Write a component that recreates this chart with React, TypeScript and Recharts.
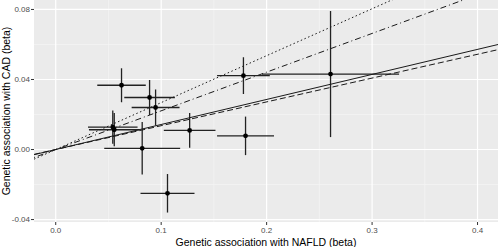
import {
  ComposedChart,
  Scatter,
  XAxis,
  YAxis,
  CartesianGrid,
  ErrorBar,
  ReferenceLine,
} from "recharts";

// SNP effects: association with NAFLD (x) and with CAD (y), with their errors
const snpX = [0.0624, 0.089, 0.0947, 0.0541, 0.0555, 0.082, 0.127, 0.106, 0.178, 0.18, 0.2606];
const snpY = [0.0367, 0.0297, 0.024, 0.0128, 0.0113, 0.0007, 0.0109, -0.025, 0.0422, 0.0078, 0.0431];
const snpXErr = [0.023, 0.024, 0.0227, 0.0235, 0.024, 0.036, 0.0245, 0.0256, 0.025, 0.027, 0.065];
const snpYErr = [0.0097, 0.01, 0.0103, 0.0095, 0.0095, 0.015, 0.0099, 0.011, 0.0105, 0.011, 0.036];

// MR estimates (slopes of the fitted lines)
const methods = ["IVW", "Weighted median", "Simple mode", "Weighted mode"];
const slopes = [0.143, 0.136, 0.268, 0.221];
const dashes = ["", "6 3", "1.5 2.5", "1 3 6 3"];

const xTicks = [0, 0.1, 0.2, 0.3, 0.4];
const yTicks = [-0.04, 0, 0.04, 0.08];
const xMinor = [0.05, 0.15, 0.25, 0.35];
const yMinor = [-0.02, 0.02, 0.06];

const X_DOMAIN: [number, number] = [-0.0206, 0.4194];
const Y_DOMAIN: [number, number] = [-0.0414, 0.0854];

const data = snpX.map((x, i) => ({
  x,
  y: snpY[i],
  xerr: snpXErr[i],
  yerr: snpYErr[i],
}));

const FONT = "'Liberation Sans', Arial, sans-serif";

const YTitle = (props: any) => {
  const vb = props.viewBox || {};
  const cx = 5.5;
  const cy = (vb.y ?? 0) + (vb.height ?? 222) / 2;
  return (
    <text
      x={cx}
      y={cy}
      transform={`rotate(-90, ${cx}, ${cy})`}
      textAnchor="middle"
      dominantBaseline="central"
      fontSize={10.5}
      fontFamily={FONT}
      fill="#000"
    >
      Genetic association with CAD (beta)
    </text>
  );
};

const Dot = (props: any) => (
  <circle cx={props.cx} cy={props.cy} r={2.4} fill="#000" />
);

export default function App() {
  return (
    <div style={{ position: "absolute", left: 0, top: 0 }}>
      <ComposedChart
        width={500}
        height={247}
        data={data}
        margin={{ top: 0, right: 2, bottom: 0, left: 0 }}
      >
        <CartesianGrid
          fill="#EBEBEB"
          stroke="#F5F5F5"
          strokeWidth={0.7}
          horizontalValues={yMinor}
          verticalValues={xMinor}
        />
        <CartesianGrid
          stroke="#FFFFFF"
          strokeWidth={1.2}
          horizontalValues={yTicks}
          verticalValues={xTicks}
        />
        <XAxis
          type="number"
          dataKey="x"
          domain={X_DOMAIN}
          allowDataOverflow
          ticks={xTicks}
          tickFormatter={(v: number) => v.toFixed(1)}
          height={25}
          axisLine={false}
          tickLine={{ stroke: "#333333" }}
          tickSize={3}
          tickMargin={2}
          tick={{ fill: "#4D4D4D", fontSize: 8, fontFamily: FONT }}
          label={{
            value: "Genetic association with NAFLD (beta)",
            position: "insideBottom",
            offset: 1,
            fontSize: 10.5,
            fontFamily: FONT,
            fill: "#000",
          }}
        />
        <YAxis
          type="number"
          dataKey="y"
          domain={Y_DOMAIN}
          allowDataOverflow
          ticks={yTicks}
          tickFormatter={(v: number) => v.toFixed(2)}
          width={34}
          axisLine={false}
          tickLine={{ stroke: "#333333" }}
          tickSize={3}
          tickMargin={1}
          tick={{ fill: "#4D4D4D", fontSize: 8, fontFamily: FONT }}
          label={<YTitle />}
        />
        <Scatter
          dataKey="y"
          fill="#000"
          shape={<Dot />}
          isAnimationActive={false}
        >
          <ErrorBar
            dataKey="xerr"
            direction="x"
            width={0}
            stroke="#222"
            strokeWidth={1.3}
          />
          <ErrorBar
            dataKey="yerr"
            direction="y"
            width={0}
            stroke="#222"
            strokeWidth={1.3}
          />
        </Scatter>
        {slopes.map((b, i) => (
          <ReferenceLine
            key={methods[i]}
            segment={[
              { x: X_DOMAIN[0], y: b * X_DOMAIN[0] },
              { x: X_DOMAIN[1], y: b * X_DOMAIN[1] },
            ]}
            ifOverflow="hidden"
            stroke="#1a1a1a"
            strokeWidth={1}
            strokeDasharray={dashes[i] || undefined}
          />
        ))}
      </ComposedChart>
    </div>
  );
}
